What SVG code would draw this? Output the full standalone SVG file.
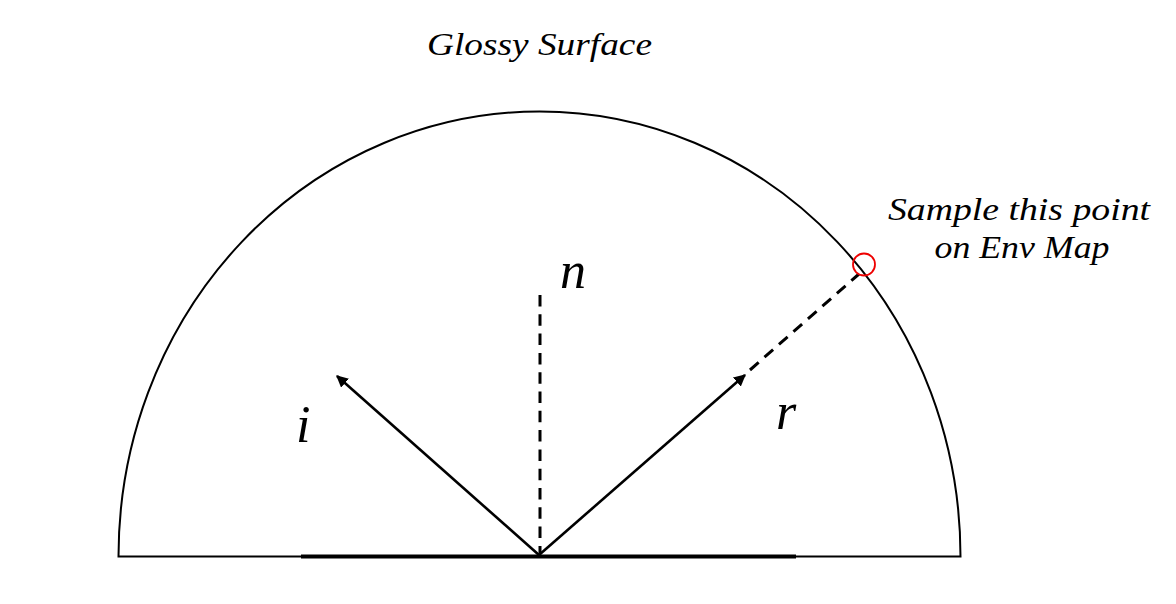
<svg xmlns="http://www.w3.org/2000/svg" width="1176" height="604" viewBox="0 0 1176 604">
<style>
.lbl{font-family:"Liberation Serif","DejaVu Serif",serif;font-style:italic;fill:#000}
.small{font-size:31px}
.big{font-size:52px}
.solid{stroke:#000;stroke-width:2.6;fill:none}
.dash{stroke:#000;stroke-width:3;fill:none;stroke-dasharray:11.5 7.8}
</style>
<defs>
<marker id="ah" viewBox="0 0 10 10" refX="9" refY="5" markerWidth="4.6" markerHeight="4.6" orient="auto" markerUnits="strokeWidth">
<path d="M0,0 L10,5 L0,10 Z" fill="#000"/>
</marker>
</defs>
<rect width="1176" height="604" fill="#fff"/>
<g id="hemisphere">
<path d="M118.5,556.5 A421,445 0 0 1 960.5,556.5 Z" fill="none" stroke="#000" stroke-width="2"/>
</g>
<g id="surface">
<line x1="301" y1="556.5" x2="796" y2="556.5" stroke="#000" stroke-width="4"/>
</g>
<g id="connectors">
<line id="normal" class="dash" x1="540" y1="295" x2="540" y2="553"/>
<line id="incident" class="solid" x1="539" y1="555" x2="337" y2="376" marker-end="url(#ah)"/>
<line id="reflect" class="solid" x1="539" y1="555" x2="745" y2="375" marker-end="url(#ah)"/>
<line id="reflect-ext" class="dash" x1="750" y1="370" x2="859" y2="274"/>
</g>
<g id="sample-point">
<circle cx="864" cy="264.5" r="11" fill="none" stroke="#e00" stroke-width="1.8"/>
</g>
<g id="labels">
<text class="lbl small" x="539.5" y="55" text-anchor="middle" textLength="225" lengthAdjust="spacingAndGlyphs">Glossy Surface</text>
<text class="lbl small" x="1019" y="220" text-anchor="middle" textLength="262" lengthAdjust="spacingAndGlyphs">Sample this point</text>
<text class="lbl small" x="1022" y="258" text-anchor="middle" textLength="175" lengthAdjust="spacingAndGlyphs">on Env Map</text>
<text class="lbl big" x="560" y="288">n</text>
<text class="lbl big" x="296" y="442">i</text>
<text class="lbl big" x="776" y="429">r</text>
</g>
</svg>
